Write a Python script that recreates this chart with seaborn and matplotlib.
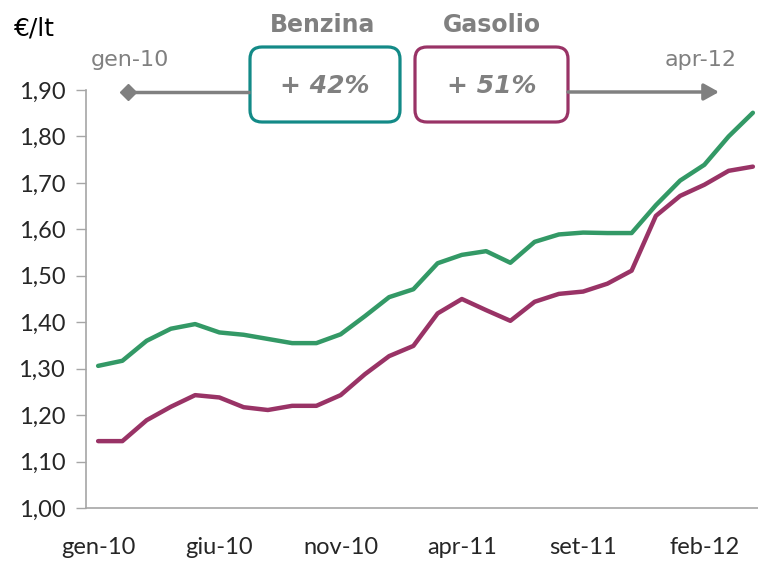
"""Prezzi medi mensili di benzina e gasolio, gen-10 / apr-12."""
import matplotlib

matplotlib.use("Agg")
import matplotlib.pyplot as plt
import numpy as np
import pandas as pd
import seaborn as sns
from matplotlib.patches import FancyBboxPatch

MONTHS_IT = ["gen", "feb", "mar", "apr", "mag", "giu",
             "lug", "ago", "set", "ott", "nov", "dic"]

# 28 mesi, da gennaio 2010 ad aprile 2012
months = [f"{MONTHS_IT[i % 12]}-{10 + i // 12}" for i in range(28)]

benzina = [1.306, 1.317, 1.360, 1.386, 1.396, 1.378, 1.373, 1.364, 1.355, 1.355,
           1.374, 1.413, 1.454, 1.471, 1.527, 1.545, 1.553, 1.528, 1.573, 1.589,
           1.593, 1.592, 1.592, 1.652, 1.705, 1.739, 1.800, 1.851]
gasolio = [1.144, 1.144, 1.189, 1.218, 1.243, 1.238, 1.217, 1.211, 1.220, 1.220,
           1.243, 1.288, 1.327, 1.349, 1.419, 1.450, 1.426, 1.403, 1.444, 1.461,
           1.466, 1.483, 1.511, 1.629, 1.672, 1.696, 1.726, 1.735]

yticks = [1.00, 1.10, 1.20, 1.30, 1.40, 1.50, 1.60, 1.70, 1.80, 1.90]
ytick_labels = [f"{v:.2f}".replace(".", ",") for v in yticks]

GREEN = "#339966"
PURPLE = "#993366"
TEAL = "#138a87"
GREY = "#808080"
AXIS_GREY = "#a6a6a6"

sns.set_style("white")
plt.rcParams["font.family"] = ["DejaVu Sans"]

df = pd.DataFrame({"mese": np.arange(len(months)), "Benzina": benzina, "Gasolio": gasolio})
long = df.melt(id_vars="mese", var_name="carburante", value_name="prezzo")

fig = plt.figure(figsize=(7.58, 5.63), dpi=100)
ax = fig.add_axes([86 / 758, 55 / 563, 679 / 758, 418 / 563])

sns.lineplot(
    data=long, x="mese", y="prezzo", hue="carburante",
    palette={"Benzina": GREEN, "Gasolio": PURPLE},
    linewidth=3.2, legend=False, ax=ax,
)

ax.set_xlim(-0.5, len(months) - 0.5)
ax.set_ylim(1.0, 1.9)
ax.set_xlabel("")
ax.set_ylabel("")

# etichette ogni 5 mesi, tacche tra le categorie
label_pos = list(range(0, len(months), 5))
ax.set_xticks(label_pos)
ax.set_xticklabels([months[i] for i in label_pos], family="Lato", fontsize=17)
ax.set_xticks([p - 0.5 for p in label_pos], minor=True)
ax.tick_params(axis="x", which="major", length=0, pad=21)
ax.tick_params(axis="x", which="minor", length=7, width=1, color=AXIS_GREY, direction="out")

ax.set_yticks(yticks)
ax.set_yticklabels(ytick_labels, family="Lato", fontsize=17)
ax.tick_params(axis="y", length=7, width=1, color=AXIS_GREY, direction="out", pad=8, left=True)

for side in ["top", "right"]:
    ax.spines[side].set_visible(False)
for side in ["left", "bottom"]:
    ax.spines[side].set_color(AXIS_GREY)
    ax.spines[side].set_linewidth(1.2)

# overlay in pixel per le annotazioni
ov = fig.add_axes([0, 0, 1, 1], facecolor="none")
ov.set_xlim(0, 758)
ov.set_ylim(563, 0)
ov.axis("off")

ov.text(14, 28, "€/lt", fontsize=18, color="black", va="center", ha="left")
ov.text(323, 25, "Benzina", fontsize=17, fontweight="bold", color=GREY, ha="center", va="center")
ov.text(492, 25, "Gasolio", fontsize=17, fontweight="bold", color=GREY, ha="center", va="center")
ov.text(130, 60, "gen-10", fontsize=16, color=GREY, ha="center", va="center")
ov.text(701, 60, "apr-12", fontsize=16, color=GREY, ha="center", va="center")

for x0, x1, col, txt in [(250, 400, TEAL, "+ 42%"), (415, 568, PURPLE, "+ 51%")]:
    ov.add_patch(FancyBboxPatch(
        (x0, 47), x1 - x0, 75,
        boxstyle="round,pad=0,rounding_size=12",
        facecolor="white", edgecolor=col, linewidth=2.3,
    ))
    ov.text((x0 + x1) / 2, 86, txt, fontsize=18, fontweight="bold", fontstyle="italic",
            color=GREY, ha="center", va="center")

ov.plot([128, 250], [92, 92], color=GREY, lw=2.5, solid_capstyle="butt")
ov.plot([128], [92], marker="D", markersize=8, color=GREY)
ov.annotate("", xy=(719, 92), xytext=(568, 92),
            arrowprops=dict(arrowstyle="-|>,head_length=0.9,head_width=0.5",
                            color=GREY, lw=2.5, shrinkA=0, shrinkB=0))

fig.savefig("out.png", dpi=100)
